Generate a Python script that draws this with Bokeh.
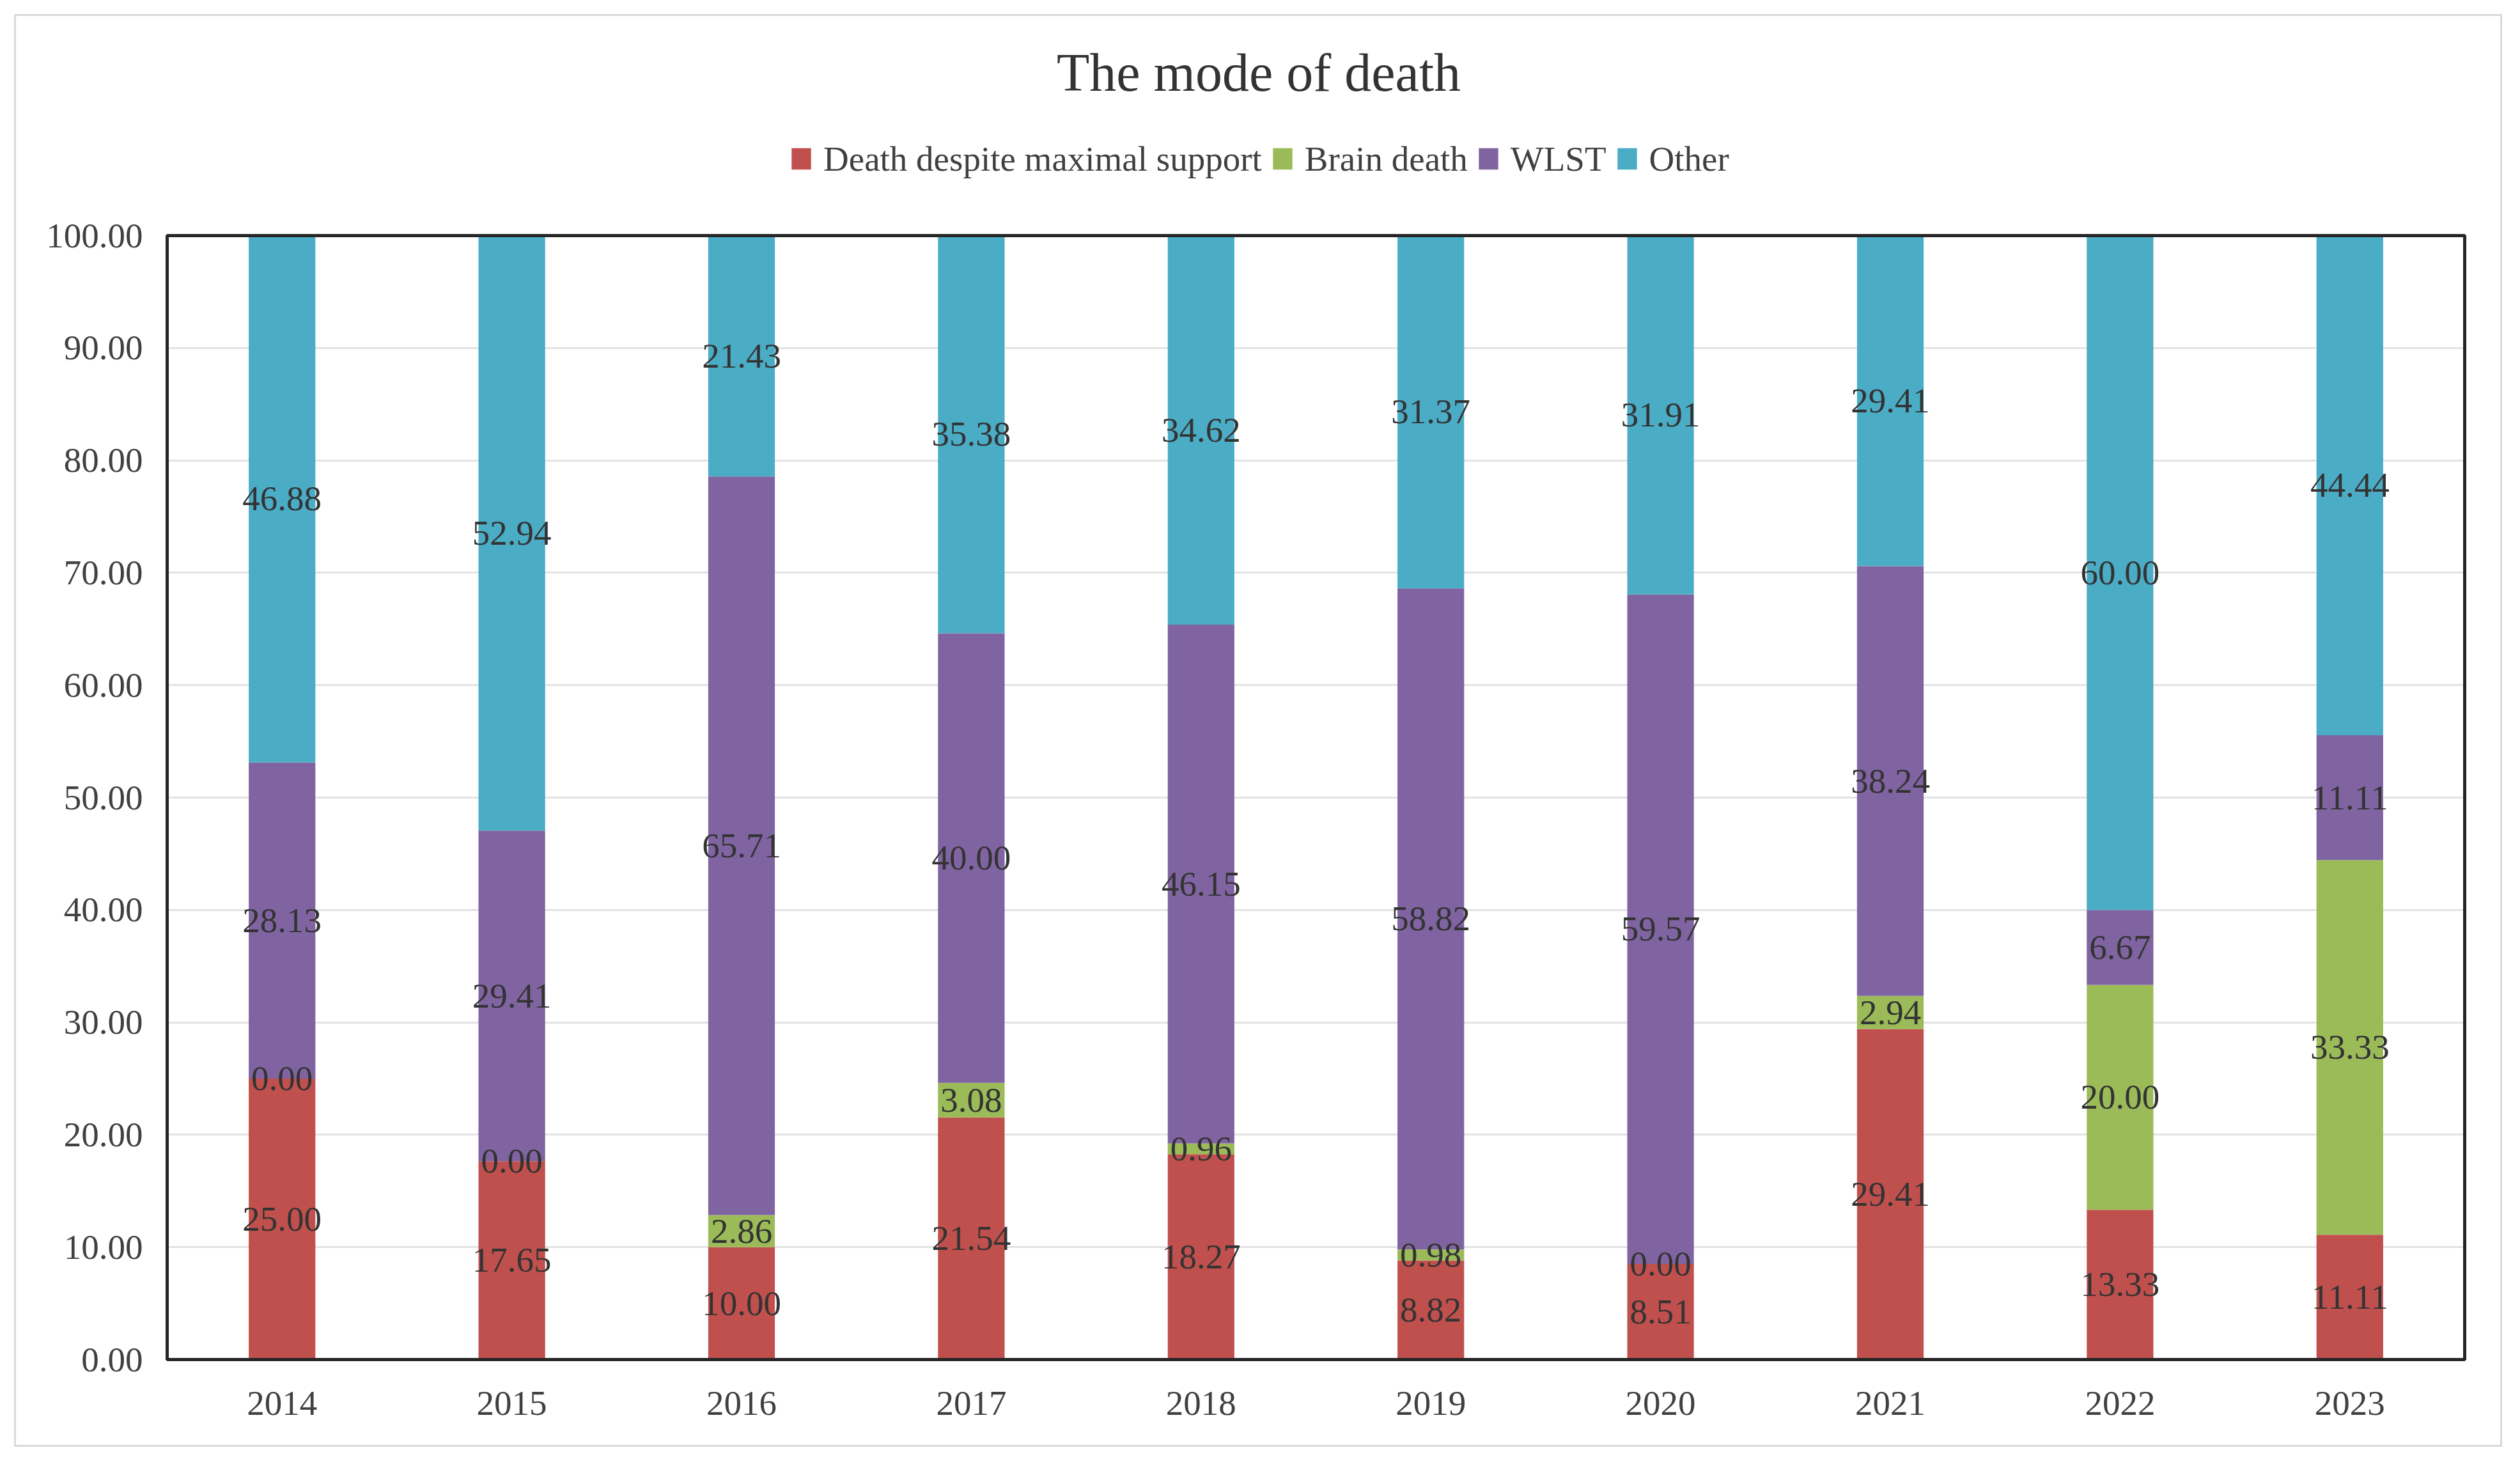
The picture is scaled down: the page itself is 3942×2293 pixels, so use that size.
import numpy as np
from bokeh.plotting import figure
from bokeh.layouts import column, row
from bokeh.models import (ColumnDataSource, Legend, LegendItem, FactorRange,
                          Range1d, FixedTicker, NumeralTickFormatter, Spacer,
                          BoxAnnotation, Label)
from bokeh.embed import file_html
from bokeh.resources import INLINE
from bokeh.core.properties import value

# ---------------- data ----------------
years = ["2014", "2015", "2016", "2017", "2018", "2019", "2020", "2021", "2022", "2023"]
series_names = ["Death despite maximal support", "Brain death", "WLST", "Other"]
death_max = [25.00, 17.65, 10.00, 21.54, 18.27, 8.82, 8.51, 29.41, 13.33, 11.11]
brain_death = [0.00, 0.00, 2.86, 3.08, 0.96, 0.98, 0.00, 2.94, 20.00, 33.33]
wlst = [28.13, 29.41, 65.71, 40.00, 46.15, 58.82, 59.57, 38.24, 6.67, 11.11]
other = [46.88, 52.94, 21.43, 35.38, 34.62, 31.37, 31.91, 29.41, 60.00, 44.44]
y_ticks = [0, 10, 20, 30, 40, 50, 60, 70, 80, 90, 100]
y_min, y_max = 0, 100
title_text = "The mode of death"

colors = ["#C0504D", "#9BBB59", "#8064A2", "#4BACC6"]
FONT = "Liberation Serif"

# ---------------- layout (canvas pixels) ----------------
W, H = 3892, 2241
MB_L, MB_R, MB_B = 233, 59, 137
BOX_L, BOX_R = 236, 3830          # plot box (value axis frame) edges
BOX_T, BOX_B = 343, 2101
frame_w = W - MB_L - MB_R
frame_b = H - MB_B
ppu = (BOX_B - BOX_T) / (y_max - y_min)
y_top = y_max + BOX_T / ppu
y_bot = y_min - (frame_b - BOX_B) / ppu
x_pad = (frame_w - (BOX_R - BOX_L)) / (BOX_R - BOX_L)

p = figure(x_range=FactorRange(*years, range_padding=x_pad),
           y_range=Range1d(y_bot, y_top),
           width=W, height=H, output_backend="svg", toolbar_location=None,
           min_border_left=MB_L, min_border_right=MB_R,
           min_border_top=0, min_border_bottom=MB_B)
p.styles = {"border": "3px solid #D9D9D9"}

cols = ["death", "brain", "wlst", "other"]
src = ColumnDataSource(dict(years=years, death=death_max, brain=brain_death,
                            wlst=wlst, other=other))
rs = p.vbar_stack(cols, x="years", width=0.29, fill_color=colors,
                  line_color=None, source=src)

# data labels centred in each segment
stack = np.array([death_max, brain_death, wlst, other])
cum = np.cumsum(stack, axis=0)
centers = cum - stack / 2.0
for i, series in enumerate([death_max, brain_death, wlst, other]):
    lsrc = ColumnDataSource(dict(x=years, y=list(centers[i]),
                                 t=[f"{v:.2f}" for v in series]))
    p.text(x="x", y="y", text="t", source=lsrc, text_font=value(FONT),
           text_font_size="55px", text_color="#333333",
           text_align="center", text_baseline="middle")

# plot box outline (0..100)
p.add_layout(BoxAnnotation(left=0, right=len(years), bottom=y_min, top=y_max,
                           fill_color=None, fill_alpha=0,
                           line_color="#262626", line_alpha=1.0, line_width=5))

# title
p.add_layout(Label(x=1943.5 - MB_L, y=frame_b - 88, x_units="screen", y_units="screen",
                   text=title_text, text_font=FONT, text_font_size="84px",
                   text_color="#333333", text_align="center", text_baseline="middle"))

legend_h = 61
legend = Legend(items=[LegendItem(label=n, renderers=[r]) for n, r in zip(series_names, rs)],
                orientation="horizontal",
                location=(1209 - MB_L, frame_b - (224 + legend_h / 2)),
                label_text_font=FONT, label_text_font_size="55px",
                label_text_color="#404040",
                glyph_width=38, glyph_height=42, label_standoff=16, spacing=13,
                padding=0, margin=0, border_line_color=None,
                background_fill_alpha=0)
p.add_layout(legend, "center")

p.yaxis.ticker = FixedTicker(ticks=y_ticks)
p.yaxis.formatter = NumeralTickFormatter(format="0.00")
for ax in (p.xaxis, p.yaxis):
    ax.axis_line_color = None
    ax.major_tick_line_color = None
    ax.minor_tick_line_color = None
    ax.major_label_text_font = FONT
    ax.major_label_text_font_size = "55px"
    ax.major_label_text_color = "#404040"
p.yaxis.major_label_standoff = 29
p.xaxis.major_label_standoff = 41

p.xgrid.grid_line_color = None
p.ygrid.grid_line_color = "#E3E3E3"
p.ygrid.grid_line_width = 3
p.outline_line_color = None
p.background_fill_color = "white"
p.border_fill_color = "white"

page = column(Spacer(height=22, width=10), row(Spacer(width=22, height=10), p))
open("out.html", "w").write(file_html(page, INLINE))
